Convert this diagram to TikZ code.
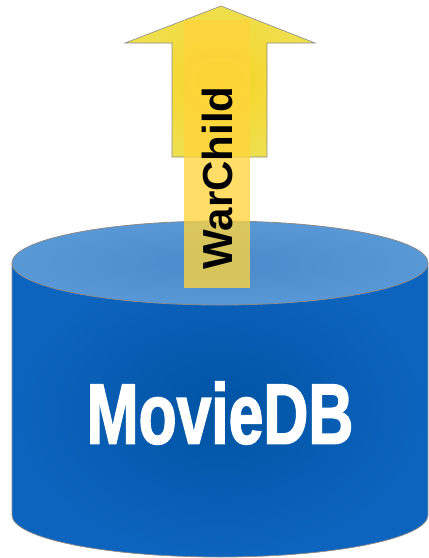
\documentclass[tikz,border=0pt]{standalone}
\usepackage{fontspec}
\setmainfont{Liberation Sans}
\newfontfamily\heavyfont[FakeBold=2.2]{Liberation Sans Bold}
\usetikzlibrary{shapes.geometric}
\definecolor{sideblue}{HTML}{0D64BE}
\definecolor{sidedark}{HTML}{0054A4}
\definecolor{topblue}{HTML}{4A8ACA}
\definecolor{toplight}{HTML}{5898D6}
\definecolor{arrowyel}{HTML}{F9D322}
\definecolor{arrowlight}{HTML}{EEDF4E}
\definecolor{boxyel}{HTML}{FFD43C}
\definecolor{edgegray}{HTML}{8A8A8A}
\tikzset{
  outline/.style={draw=edgegray, line width=0.8pt},
  sidefill/.style={inner color=sidedark, outer color=sideblue},
  topfill/.style={inner color=topblue, outer color=toplight},
  arrowfill/.style={inner color=arrowyel, outer color=arrowlight},
  labelbox/.style={fill=boxyel, fill opacity=0.78},
  dblabel/.style={text=white, font=\heavyfont\fontsize{82}{82}\selectfont, inner sep=0pt},
  arrowlabel/.style={text=black, font=\bfseries\fontsize{42}{42}\selectfont, rotate=90, inner sep=0pt}
}
\begin{document}
\begin{tikzpicture}[x=1pt,y=1pt]
\useasboundingbox (0,0) rectangle (429,-558);
% cylinder body
\path[sidefill] (12,-263) -- (12,-515)
  arc[start angle=180, end angle=360, x radius=208, y radius=42]
  -- (428,-263) -- cycle;
\draw[outline] (12,-263) -- (12,-515)
  arc[start angle=180, end angle=360, x radius=208, y radius=42]
  -- (428,-263);
% cylinder lid
\draw[outline, topfill] (220,-263) ellipse[x radius=208, y radius=42];
% upward arrow
\draw[outline, line width=0.6pt, arrowfill]
  (221,-6) -- (315,-43) -- (267,-43) -- (267,-157) -- (172,-157)
  -- (172,-43) -- (125,-43) -- cycle;
% translucent label strip
\fill[labelbox] (184,-20) rectangle (250,-288);
\node[arrowlabel] (war) at (217,-178) {WarChild};
\node[dblabel] (db) at (220,-413) {\scalebox{0.76}[1.04]{MovieDB}};
\end{tikzpicture}
\end{document}
